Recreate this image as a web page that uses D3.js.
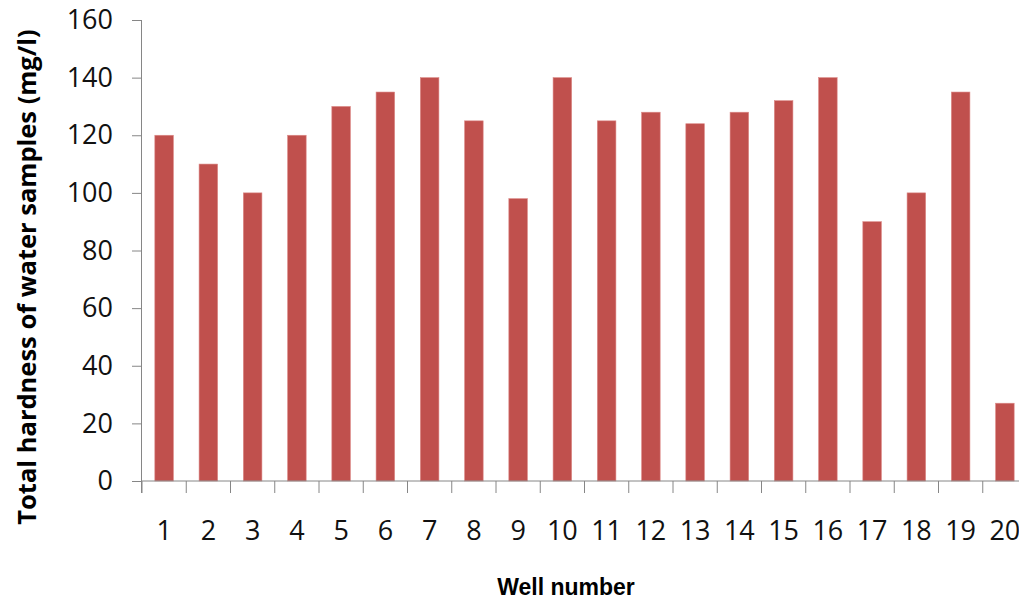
<!DOCTYPE html>
<html>
<head>
<meta charset="utf-8">
<script src="https://cdn.jsdelivr.net/npm/d3@7"></script>
<style>
  html, body { margin: 0; padding: 0; background: #fff; }
  svg { display: block; }
</style>
</head>
<body>
<svg id="chart" width="1019" height="599"></svg>
<script>
// Well numbers and their total hardness (mg/l)
const wells = ["1","2","3","4","5","6","7","8","9","10","11","12","13","14","15","16","17","18","19","20"];
const hardness = [120, 110, 100, 120, 130, 135, 140, 125, 98, 140, 125, 128, 124, 128, 132, 140, 90, 100, 135, 27];
const yTicks = [0, 20, 40, 60, 80, 100, 120, 140, 160];

const svg = d3.select("#chart");
const plotLeft = 142, plotRight = 1027, plotTop = 20, plotBottom = 481;

const x = d3.scaleBand().domain(wells).range([plotLeft, plotRight]).paddingInner(0.58).paddingOuter(0.29);
const xb = d3.scaleBand().domain(wells).range([plotLeft, plotRight]); // category boundaries for ticks
const y = d3.scaleLinear().domain([0, 160]).range([plotBottom, plotTop]);

const axisColor = "#868686";
const tickFont = "'Open Sans', sans-serif";

// bars
svg.append("g").selectAll("rect")
  .data(hardness)
  .join("rect")
  .attr("x", (d, i) => x(wells[i]))
  .attr("width", x.bandwidth())
  .attr("y", d => y(d))
  .attr("height", d => y(0) - y(d))
  .attr("fill", "#C0504D")
  .attr("stroke", "#dc8a88")
  .attr("stroke-width", 0.6);

// y axis
const yAxis = svg.append("g")
  .attr("transform", `translate(${plotLeft},0)`)
  .call(d3.axisLeft(y).tickValues(yTicks).tickSize(10).tickPadding(19));
yAxis.select(".domain").attr("stroke", axisColor).attr("d", `M-0.5,${plotTop}V${plotBottom + 12}`);
yAxis.selectAll(".tick line").attr("stroke", axisColor);
yAxis.selectAll(".tick text")
  .attr("fill", "#111")
  .style("font-family", tickFont)
  .style("font-weight", "500")
  .style("font-size", "27px");

// x axis: ticks on category boundaries
const xAxisG = svg.append("g").attr("transform", `translate(0,${plotBottom})`);
xAxisG.append("line")
  .attr("x1", plotLeft).attr("x2", plotRight)
  .attr("y1", 0).attr("y2", 0)
  .attr("stroke", axisColor);
xAxisG.selectAll("line.tk")
  .data(wells.concat(["end"]))
  .join("line")
  .attr("class", "tk")
  .attr("x1", (d, i) => plotLeft + i * xb.step())
  .attr("x2", (d, i) => plotLeft + i * xb.step())
  .attr("y1", 0).attr("y2", 12)
  .attr("stroke", axisColor);
xAxisG.selectAll("text")
  .data(wells)
  .join("text")
  .attr("x", d => xb(d) + xb.bandwidth() / 2)
  .attr("y", 59)
  .attr("text-anchor", "middle")
  .attr("fill", "#111")
  .style("font-family", tickFont)
  .style("font-weight", "500")
  .style("font-size", "27px")
  .text(d => d);

// axis titles
svg.append("text")
  .attr("transform", "translate(36,277) rotate(-90)")
  .attr("text-anchor", "middle")
  .style("font-family", "'Open Sans', sans-serif")
  .style("font-weight", "700")
  .style("font-size", "25.5px")
  .text("Total hardness of water samples (mg/l)");

svg.append("text")
  .attr("x", 566)
  .attr("y", 595)
  .attr("text-anchor", "middle")
  .style("font-family", "'Liberation Sans', Arial, sans-serif")
  .style("font-weight", "700")
  .style("font-size", "23px")
  .text("Well number");
</script>
</body>
</html>
